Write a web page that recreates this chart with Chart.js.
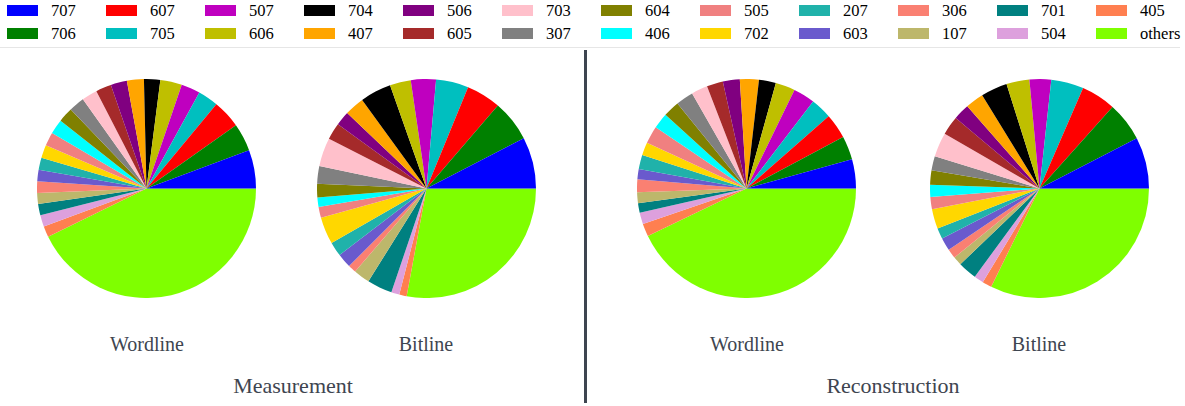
<!DOCTYPE html>
<html>
<head>
<meta charset="utf-8">
<script src="https://cdn.jsdelivr.net/npm/chart.js@4/dist/chart.umd.min.js"></script>
<style>
  html, body { margin: 0; padding: 0; background: #fff; }
  body { width: 1185px; height: 406px; position: relative; overflow: hidden; font-family: "Liberation Serif", "Times New Roman", serif; }
  #legend { position: absolute; left: 7px; top: 4px; display: grid; grid-template-rows: 23px 23px; grid-auto-flow: column; grid-auto-columns: 99px; }
  .item { display: flex; align-items: center; height: 13px; font-family: "Liberation Serif", serif; font-size: 16.5px; color: #000; }
  .sw { width: 31px; height: 11px; margin-right: 13px; }
  #rule { position: absolute; left: 0; top: 47px; width: 1180px; height: 1px; background: #e6e6e6; }
  #divider { position: absolute; left: 584px; top: 50px; width: 2.5px; height: 353px; background: #3e4550; }
  .pie { position: absolute; top: 79px; width: 219px; height: 219px; }
  .lbl { position: absolute; transform: translateX(-50%); color: #3e4550; white-space: nowrap; }
  .sub { top: 333px; font-size: 20px; }
  .grp { top: 373px; font-size: 22px; }
</style>
</head>
<body>
<div id="legend"></div>
<div id="rule"></div>
<div id="divider"></div>

<canvas class="pie" id="pMW" width="219" height="219" style="left:37px"></canvas>
<canvas class="pie" id="pMB" width="219" height="219" style="left:317px"></canvas>
<canvas class="pie" id="pRW" width="219" height="219" style="left:637px"></canvas>
<canvas class="pie" id="pRB" width="219" height="219" style="left:930px"></canvas>

<div class="lbl sub" style="left:147px">Wordline</div>
<div class="lbl sub" style="left:426px">Bitline</div>
<div class="lbl sub" style="left:747px">Wordline</div>
<div class="lbl sub" style="left:1039px">Bitline</div>
<div class="lbl grp" style="left:293px">Measurement</div>
<div class="lbl grp" style="left:893px">Reconstruction</div>

<script>
// categories in slice order (counter-clockwise from 3 o'clock)
const categories = ["707", "706", "607", "705", "507", "606", "704", "407", "506", "605", "703", "307",
                    "604", "406", "505", "702", "207", "603", "306", "107", "701", "504", "405", "others"];
const colors = ["#0000ff", "#008000", "#ff0000", "#00bfbf", "#bf00bf", "#bfbf00", "#000000", "#ffa500",
                "#800080", "#a52a2a", "#ffc0cb", "#808080", "#808000", "#00ffff", "#f08080", "#ffd700",
                "#20b2aa", "#6a5acd", "#fa8072", "#bdb76b", "#008080", "#dda0dd", "#ff7f50", "#7fff00"];

// share of each category, percent
const measWordline = [5.7, 4.1, 4.2, 3.0, 2.8, 3.2, 2.4, 2.5, 2.4, 2.3, 2.3, 2.3,
                      2.2, 2.2, 2.0, 1.9, 1.8, 1.7, 1.7, 1.6, 1.7, 1.7, 1.6, 42.8];
const measBitline  = [7.6, 6.1, 5.1, 4.8, 3.7, 3.1, 4.6, 2.9, 2.1, 2.5, 4.2, 2.6,
                      2.0, 1.4, 1.6, 4.0, 2.1, 2.1, 1.2, 2.4, 3.7, 1.2, 1.1, 27.9];
const recWordline  = [4.3, 3.5, 3.7, 3.1, 3.2, 2.9, 2.5, 2.8, 2.5, 2.4, 2.4, 2.6,
                      2.4, 2.3, 2.6, 1.9, 2.1, 1.5, 1.9, 1.6, 1.4, 1.7, 1.9, 42.9];
const recBitline   = [7.6, 5.8, 5.1, 4.8, 3.2, 3.4, 3.9, 2.7, 2.4, 2.8, 3.6, 2.1,
                      2.1, 1.8, 1.8, 2.9, 1.6, 1.9, 1.4, 1.3, 2.8, 1.4, 1.4, 32.3];

// legend, filled column by column in two rows
const legend = document.getElementById("legend");
categories.forEach((c, i) => {
  const item = document.createElement("div");
  item.className = "item";
  item.innerHTML = '<span class="sw" style="background:' + colors[i] + '"></span>' + c;
  legend.appendChild(item);
});

// Chart.js only draws clockwise, so feed the slices reversed and start at 3 o'clock
function drawPie(id, values) {
  new Chart(document.getElementById(id), {
    type: "pie",
    data: {
      labels: categories.slice().reverse(),
      datasets: [{
        data: values.slice().reverse(),
        backgroundColor: colors.slice().reverse(),
        borderWidth: 0
      }]
    },
    options: {
      responsive: false,
      animation: false,
      rotation: 90,
      layout: { padding: 0 },
      plugins: { legend: { display: false }, tooltip: { enabled: false } }
    }
  });
}

drawPie("pMW", measWordline);
drawPie("pMB", measBitline);
drawPie("pRW", recWordline);
drawPie("pRB", recBitline);
</script>
</body>
</html>
